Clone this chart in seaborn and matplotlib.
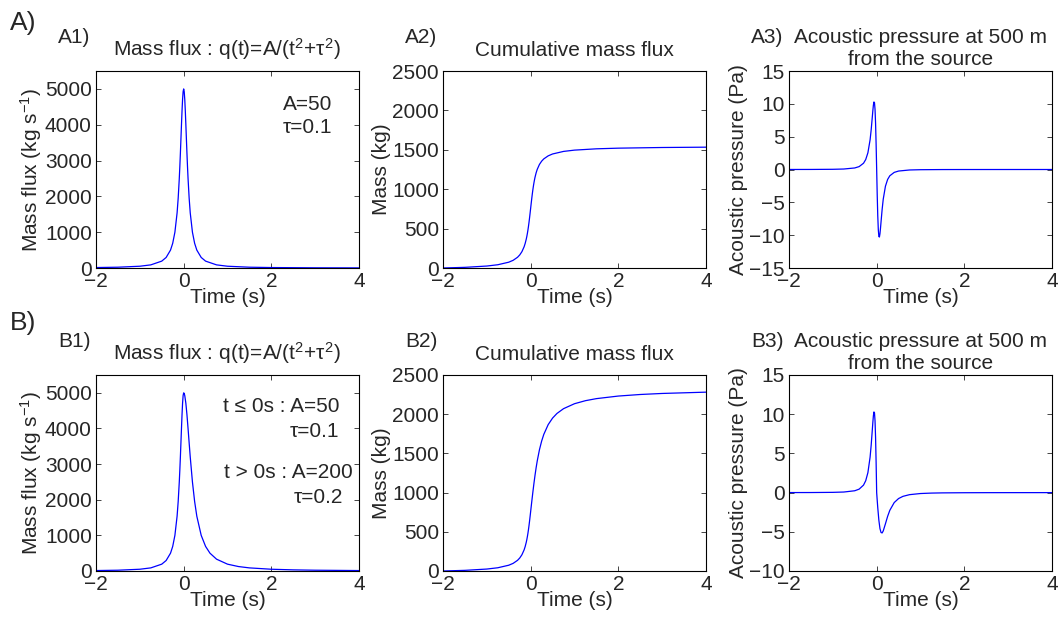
import pandas as pd
import seaborn as sns
import matplotlib
matplotlib.use('Agg')
import matplotlib.pyplot as plt

# Time samples (s), denser around the peak
t_neg = [-2, -1.5, -1, -0.75, -0.5, -0.4, -0.3, -0.25, -0.2, -0.15, -0.125, -0.1,
         -0.0875, -0.075, -0.0625, -0.05, -0.0375, -0.025, -0.0125, 0]
t_pos_a = [0.0125, 0.025, 0.0375, 0.05, 0.0625, 0.075, 0.0875, 0.1, 0.125, 0.15,
           0.2, 0.25, 0.3, 0.4, 0.5, 0.75, 1, 1.5, 2, 3, 4]
t_pos_b = [0.0125, 0.025, 0.05, 0.075, 0.1, 0.125, 0.15, 0.2, 0.25, 0.3, 0.4, 0.5,
           0.6, 0.75, 1, 1.25, 1.5, 2, 2.5, 3, 4]

# Mass flux (kg/s)
flux_neg = [12.5, 22.1, 49.5, 87.3, 192, 294, 500, 690, 1000, 1538, 1951, 2500,
            2832, 3200, 3596, 4000, 4384, 4706, 4923, 5000]
flux_pos_a = [4923, 4706, 4384, 4000, 3596, 3200, 2832, 2500, 1951, 1538,
              1000, 690, 500, 294, 192, 87.3, 49.5, 22.1, 12.5, 5.5, 3.1]
flux_pos_b = [4980, 4923, 4706, 4384, 4000, 3596, 3200, 2500, 1951, 1538, 1000, 690,
              500, 332, 192, 125, 87.3, 49.5, 31.8, 22.1, 12.5]

# Cumulative mass (kg)
mass_neg = [0, 8.3, 24.9, 41.3, 73.7, 97.5, 135.9, 165.3, 206.8, 268.9, 312.4, 367.7,
            401.0, 438.7, 481.1, 528.6, 581.0, 638.0, 698.2, 760.4]
mass_pos_a = [822.6, 882.8, 939.8, 992.2, 1039.7, 1082.1, 1119.8, 1153.1, 1208.4, 1251.9,
              1314.0, 1355.5, 1384.9, 1423.3, 1447.1, 1479.5, 1495.9, 1512.5, 1520.8, 1529.2, 1533.3]
mass_pos_b = [822.8, 884.8, 1005.4, 1119.2, 1224.1, 1319.0, 1403.9, 1545.8, 1656.5, 1743.2, 1867.6, 1950.7,
              2009.5, 2070.6, 2133.8, 2172.5, 2198.6, 2231.5, 2251.4, 2264.6, 2281.2]

# Acoustic pressure at 500 m (Pa)
press_neg = [0.004, 0.009, 0.031, 0.073, 0.235, 0.441, 0.955, 1.514, 2.546, 4.520, 6.060, 7.958,
             8.934, 9.779, 10.287, 10.186, 9.175, 7.049, 3.857, 0]
press_pos_a = [-3.857, -7.049, -9.175, -10.186, -10.287, -9.779, -8.934, -7.958, -6.060, -4.520,
               -2.546, -1.514, -0.955, -0.441, -0.235, -0.073, -0.031, -0.009, -0.004, -0.001, 0]
press_pos_b = [-0.987, -1.929, -3.524, -4.587, -5.093, -5.144, -4.889, -3.979, -3.030, -2.260, -1.273, -0.757,
               -0.477, -0.263, -0.118, -0.062, -0.036, -0.016, -0.008, -0.005, -0.002]

sns.set_style('ticks')
plt.rcParams['font.family'] = ['Liberation Sans', 'DejaVu Sans']
plt.rcParams['mathtext.fontset'] = 'custom'
plt.rcParams['mathtext.rm'] = 'Liberation Sans'
plt.rcParams['mathtext.it'] = 'Liberation Sans'
plt.rcParams['axes.linewidth'] = 0.8
plt.rcParams['axes.edgecolor'] = 'black'

FS = 15

#Build dataframes for each row
df_a = pd.DataFrame({'t': t_neg + t_pos_a,
                     'flux': flux_neg + flux_pos_a,
                     'mass': mass_neg + mass_pos_a,
                     'press': press_neg + press_pos_a})
df_b = pd.DataFrame({'t': t_neg + t_pos_b,
                     'flux': flux_neg + flux_pos_b,
                     'mass': mass_neg + mass_pos_b,
                     'press': press_neg + press_pos_b})

fig = plt.figure(figsize=(10.59, 6.19), dpi=100)

W, H = 1059, 619
lefts = [96, 443, 789]
width = 263
rows = [(71, 268), (375, 571)]

flux_title = r'Mass flux : q(t)=A/(t$^{2}$+$\tau^{2}$)'
press_title = 'Acoustic pressure at 500 m\nfrom the source'
ylabels = [r'Mass flux (kg s$^{-1}$)', 'Mass (kg)', 'Acoustic pressure (Pa)']
titles = [flux_title, 'Cumulative mass flux', press_title]
cols = ['flux', 'mass', 'press']
ylims = [[(0, 5500), (0, 2500), (-15, 15)], [(0, 5500), (0, 2500), (-10, 15)]]
yticks = [[range(0, 5001, 1000), range(0, 2501, 500), range(-15, 16, 5)],
          [range(0, 5001, 1000), range(0, 2501, 500), range(-10, 16, 5)]]
row_names = ['A', 'B']

for r, (df, (top, bot)) in enumerate(zip([df_a, df_b], rows)):
    for c in range(3):
        ax = fig.add_axes([lefts[c] / W, (H - bot) / H, width / W, (bot - top) / H])
        sns.lineplot(x=df['t'], y=df[cols[c]], ax=ax, color='#0000ff', linewidth=0.9,
                     estimator=None, sort=False)
        ax.set_xlim(-2, 4)
        ax.set_ylim(*ylims[r][c])
        ax.set_xticks([-2, 0, 2, 4])
        ax.set_yticks(list(yticks[r][c]))
        ax.set_xticklabels(['\u22122', '0', '2', '4'])
        ax.set_yticklabels([str(v).replace('-', '\u2212') for v in yticks[r][c]])
        ax.tick_params(direction='in', top=True, right=True, length=3.5, width=0.6,
                       labelsize=FS)
        ax.tick_params(axis='x', pad=3)
        ax.tick_params(axis='y', pad=3)
        ax.set_xlabel('Time (s)', fontsize=FS, labelpad=-2)
        ax.set_ylabel(ylabels[c], fontsize=FS, labelpad=1)
        pad = 4 if c == 2 else 11
        ax.set_title(titles[c], fontsize=FS, pad=pad)
        for s in ax.spines.values():
            s.set_visible(True)
            s.set_linewidth(0.8)
        #Panel label
        fig.text((lefts[c] - 38) / W, 1 - (top - 28) / H, row_names[r] + str(c + 1) + ')',
                 fontsize=FS, va='baseline')
        if c == 0:
            if r == 0:
                ax.text(0.90, 0.80, 'A=50', transform=ax.transAxes, ha='right', va='baseline', fontsize=FS)
                ax.text(0.90, 0.685, '\u03c4=0.1', transform=ax.transAxes, ha='right', va='baseline', fontsize=FS)
            else:
                ax.text(0.927, 0.811, 't \u2264 0s : A=50', transform=ax.transAxes, ha='right', va='baseline', fontsize=FS)
                ax.text(0.924, 0.684, '\u03c4=0.1', transform=ax.transAxes, ha='right', va='baseline', fontsize=FS)
                ax.text(0.977, 0.474, 't > 0s : A=200', transform=ax.transAxes, ha='right', va='baseline', fontsize=FS)
                ax.text(0.94, 0.347, '\u03c4=0.2', transform=ax.transAxes, ha='right', va='baseline', fontsize=FS)

fig.text(10 / W, 1 - 30 / H, 'A)', fontsize=19, va='baseline')
fig.text(10 / W, 1 - 330 / H, 'B)', fontsize=19, va='baseline')

plt.savefig('out.png', dpi=100)
